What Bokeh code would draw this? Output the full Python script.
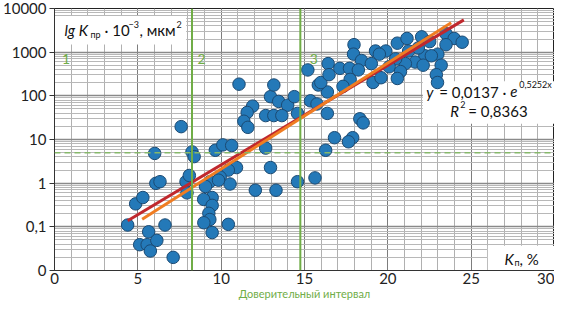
import numpy as np
from bokeh.plotting import figure
from bokeh.models import (Range1d, FixedTicker, CustomJSTickFormatter, Span,
                          Label, BoxAnnotation)
from bokeh.embed import file_html
from bokeh.resources import INLINE

# ---- data ----
kp = [4.39, 4.87, 5.30, 5.65, 5.11, 5.56, 5.75, 6.14, 6.63, 7.12,
      6.01, 6.08, 6.33, 7.60, 8.25, 8.38, 7.89, 8.09, 7.95,
      9.46, 8.95, 9.46, 9.26, 9.32, 8.96, 10.43, 9.46,
      12.96, 13.45, 13.99, 14.39, 15.36, 15.75, 16.37, 11.89, 11.56,
      12.67, 13.16, 13.64, 14.58, 16.37, 11.36, 11.60, 18.32, 18.52,
      16.80, 17.89, 17.64, 9.65, 10.10, 10.63, 12.67, 16.27,
      10.92, 12.96, 10.43, 9.94, 9.32, 10.53, 9.84, 14.58, 15.63,
      12.05, 13.29, 9.06,
      11.07, 13.16, 15.20, 15.83, 15.98, 16.42, 16.47, 17.12, 17.70,
      17.74, 17.31, 17.97, 17.94, 18.42, 18.23, 19.01, 19.11, 19.26,
      20.57, 21.15, 22.03, 22.51, 23.49, 23.98, 24.46, 23.49, 23.00,
      22.22, 21.64, 22.12, 23.20, 22.91, 21.05, 20.47, 19.88, 19.49,
      20.08, 20.76, 21.25, 21.83, 22.61, 19.59, 20.57, 22.98]
kpr = [0.110, 0.336, 0.469, 0.077, 0.039, 0.039, 0.028, 0.049, 0.110, 0.020,
       4.8, 0.99, 1.08, 19.7, 5.2, 4.06, 1.08, 1.50, 0.60,
       0.469, 0.425, 0.310, 0.204, 0.147, 0.124, 0.114, 0.074,
       95.7, 74.5, 61.1, 95.7, 76.8, 65.2, 122.7, 58.1, 41.6,
       35.3, 35.3, 35.3, 39.6, 39.6, 26.2, 19.0, 29.8, 24.0,
       11.0, 11.0, 8.87, 5.67, 7.53, 7.27, 6.36, 5.67,
       2.28, 2.28, 1.99, 1.38, 1.08, 0.957, 1.17, 1.08, 1.32,
       0.689, 0.689, 0.84,
       185, 177, 392, 177, 202, 547, 305, 426, 426,
       238, 165, 1483, 901, 645, 392, 547, 202, 1062,
       1606, 2060, 2243, 1747, 2643, 2060, 1688, 1483, 901,
       827, 593, 503, 503, 305, 547, 702, 1062, 901,
       462, 360, 1062, 1251, 827, 260, 250, 202]

x_ticks = [0, 5, 10, 15, 20, 25, 30]
y_ticks = [0.01, 0.1, 1, 10, 100, 1000, 10000]
y_tick_labels = ["0", "0,1", "1", "10", "100", "1000", "10000"]

# trend lines: y = a * exp(b * x)
red_fit = {"a": 0.0137, "b": 0.5252, "x": [4.39, 24.56]}
orange_fit = {"a": 0.0079, "b": 0.559, "x": [5.26, 23.80]}

ci_bounds = [8.25, 14.75]      # Доверительный интервал
kpr_cut = 5
zone_names = ["1", "2", "3"]
zone_x = [0.7, 8.83, 15.56]
zone_y = 713

GREEN = "#70ad47"
FONT = "Lato"

p = figure(width=554, height=302, x_range=Range1d(0, 30),
           y_range=Range1d(0.01, 10000), y_axis_type="log",
           output_backend="svg", toolbar_location=None,
           min_border_left=0, min_border_right=0, min_border_top=8,
           min_border_bottom=0)
p.outline_line_color = "#222222"
p.outline_line_width = 1
p.background_fill_color = "white"

# axes
p.xaxis.ticker = FixedTicker(ticks=x_ticks, minor_ticks=list(range(0, 31)))
p.xaxis.major_tick_out = 0
p.xaxis.major_tick_in = 0
p.xaxis.minor_tick_out = 0
p.xaxis.minor_tick_in = 0
p.xaxis.axis_line_color = "#333333"
p.xaxis.major_label_text_font = FONT
p.xaxis.major_label_text_font_size = "15px"
p.xaxis.major_label_text_color = "#222222"
p.xaxis.major_label_standoff = 2
p.xaxis.axis_label = "Доверительный интервал"
p.xaxis.axis_label_text_font = FONT
p.xaxis.axis_label_text_font_size = "11px"
p.xaxis.axis_label_text_font_style = "normal"
p.xaxis.axis_label_text_color = GREEN
p.xaxis.axis_label_standoff = 0

minor_y = [k * 10.0 ** n for n in range(-2, 4) for k in range(2, 10)]
p.yaxis.ticker = FixedTicker(ticks=y_ticks, minor_ticks=minor_y)
p.yaxis.formatter = CustomJSTickFormatter(
    args=dict(vals=y_ticks, labs=y_tick_labels),
    code="""
    const i = vals.findIndex(v => Math.abs(Math.log10(v) - Math.log10(tick)) < 1e-6);
    return i >= 0 ? labs[i] : "";
    """)
p.yaxis.major_tick_out = 5
p.yaxis.major_tick_in = 0
p.yaxis.minor_tick_out = 0
p.yaxis.minor_tick_in = 0
p.yaxis.axis_line_color = "#333333"
p.yaxis.major_tick_line_color = "#333333"
p.yaxis.major_label_text_font = FONT
p.yaxis.major_label_text_font_size = "15px"
p.yaxis.major_label_text_color = "#222222"
p.yaxis.major_label_standoff = 3

# grids
p.xgrid.grid_line_color = "#7d7d7d"
p.xgrid.grid_line_width = 1
p.xgrid.minor_grid_line_color = "#b0b0b0"
p.ygrid.grid_line_color = "#8a8a8a"
p.ygrid.grid_line_width = 1.6
p.ygrid.minor_grid_line_color = "#b8b8b8"

# white label boxes
for l, r, b, t in [(0, 7.9, 1500, 6700), (22.1, 30, 22.9, 215), (26.0, 30, 0.01, 0.037)]:
    p.add_layout(BoxAnnotation(left=l, right=r, bottom=b, top=t,
                               fill_color="white", fill_alpha=1,
                               line_alpha=0, level="underlay"))

# green guide lines
for loc in ci_bounds:
    p.add_layout(Span(location=loc, dimension="height", line_color=GREEN,
                      line_width=2))
p.add_layout(Span(location=kpr_cut, dimension="width", line_color="#86b86a",
                  line_width=1.5, line_dash="6 4"))

for name, zx in zip(zone_names, zone_x):
    p.add_layout(Label(x=zx, y=zone_y, text=name, text_font=FONT,
                       text_font_size="14px", text_color=GREEN,
                       text_align="center", text_baseline="middle"))

# points
p.scatter(kp, kpr, size=12.5, fill_color="#2479b8", line_color="#1b4a73",
          line_width=1)

# trend lines
for fit, col in [(red_fit, "#c0282d"), (orange_fit, "#f07d22")]:
    xs = np.array(fit["x"])
    p.line(xs, fit["a"] * np.exp(fit["b"] * xs), line_color=col, line_width=3)


def txt(x, y, s, dx=0, dy=0, size=15, style="normal"):
    p.add_layout(Label(x=x, y=y, x_offset=dx, y_offset=dy, text=s,
                       text_font=FONT, text_font_size=f"{size}px",
                       text_font_style=style, text_color="#111111",
                       text_align="left", text_baseline="middle"))


# y-axis title
ax, ay = 0.6, 3180
txt(ax, ay, "lg K", 0, 0, 15, "italic")
txt(ax, ay, "пр", 26, -4, 9)
txt(ax, ay, "· 10", 40, 0, 15)
txt(ax, ay, "−3", 64, 6, 9)
txt(ax, ay, ", мкм", 75, 0, 15)
txt(ax, ay, "2", 112, 6, 9)

# equation
ex, ey1, ey2 = 22.3, 124.5, 45.9
txt(ex, ey1, "y", 0, 0, 15, "italic")
txt(ex, ey1, "= 0,0137 ·", 13, 0, 15)
txt(ex, ey1, "e", 84, 0, 15, "italic")
txt(ex, ey1, "0,5252x", 93, 7, 9)
txt(ex, ey2, "R", 24, 0, 15, "italic")
txt(ex, ey2, "2", 34, 6, 9)
txt(ex, ey2, "= 0,8363", 42, 0, 15)

# x-axis title
kx, ky = 27.0, 0.0184
txt(kx, ky, "K", 0, 0, 15, "italic")
txt(kx, ky, "п", 10, -4, 9)
txt(kx, ky, ", %", 15, 0, 15)

open("out.html", "w").write(file_html(p, INLINE))
